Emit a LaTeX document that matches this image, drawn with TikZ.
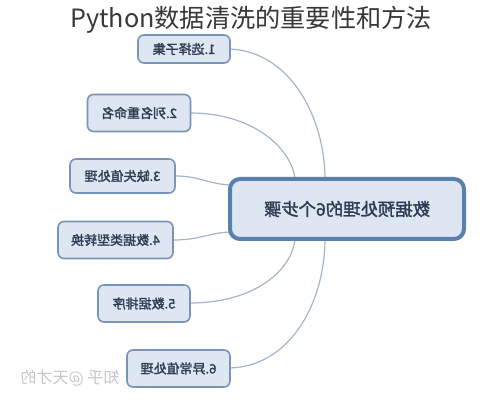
\documentclass[tikz,border=0pt]{standalone}
\usepackage{graphicx}
\usepackage{fontspec}
\setmainfont{Noto Sans CJK SC}
\newfontfamily\cjkb[FakeBold=1.8]{Noto Sans CJK SC}
\definecolor{boxfill}{HTML}{DDE6F1}
\definecolor{boxline}{HTML}{7894B8}
\definecolor{mainline}{HTML}{5A80AE}
\definecolor{txt}{HTML}{2E3B55}
\definecolor{conn}{HTML}{A3B6CC}
\tikzset{
  leaf/.style={draw=boxline, line width=0.8pt, fill=boxfill, rounded corners=3pt,
    inner sep=0pt, font=\cjkb\fontsize{6.5}{7}\selectfont, text=txt},
  hub/.style={draw=mainline, line width=2pt, fill=boxfill, rounded corners=5pt,
    inner sep=0pt, font=\cjkb\fontsize{8.7}{9}\selectfont, text=txt},
  link/.style={draw=conn, line width=0.6pt}
}
\begin{document}
\begin{tikzpicture}[x=0.5pt,y=-0.5pt]
\useasboundingbox (0,0) rectangle (499,400);
\fill[white] (0,0) rectangle (499,400);
% connectors first
\coordinate (t1) at (325,179);
\coordinate (t2) at (295,179);
\coordinate (t3) at (230,185);
\coordinate (t4) at (230,232);
\coordinate (t5) at (295,239);
\coordinate (t6) at (325,239);
\coordinate (e1) at (230,49);
\coordinate (e2) at (190,113);
\coordinate (e3) at (175,176);
\coordinate (e4) at (173,240);
\coordinate (e5) at (190,303);
\coordinate (e6) at (230,368);
\draw[link] (e1) .. controls (292,52) and (325,120) .. (t1);
\draw[link] (e2) .. controls (255,113) and (292,150) .. (t2);
\draw[link] (e3) .. controls (200,176) and (208,184) .. (t3);
\draw[link] (e4) .. controls (200,240) and (208,233) .. (t4);
\draw[link] (e5) .. controls (255,303) and (292,270) .. (t5);
\draw[link] (e6) .. controls (292,366) and (325,300) .. (t6);
% nodes
\node[leaf, minimum width=46pt, minimum height=14pt] (n1) at (184,49) {\reflectbox{1.选择子集}};
\node[leaf, minimum width=51.5pt, minimum height=18.5pt] (n2) at (139,113) {\reflectbox{2.列名重命名}};
\node[leaf, minimum width=52.5pt, minimum height=17pt] (n3) at (122.5,176) {\reflectbox{3.缺失值处理}};
\node[leaf, minimum width=57.5pt, minimum height=18.5pt] (n4) at (115.5,240) {\reflectbox{4.数据类型转换}};
\node[leaf, minimum width=46pt, minimum height=18.5pt] (n5) at (144,303.5) {\reflectbox{5.数据排序}};
\node[leaf, minimum width=51.5pt, minimum height=18.5pt] (n6) at (178.5,368.5) {\reflectbox{6.异常值处理}};
\node[hub, minimum width=117pt, minimum height=30pt] (c) at (347,209) {\reflectbox{数据预处理的6个步骤}};
% watermark
\node[font=\fontsize{8}{9}\selectfont, text=black!22] (wm) at (70,378) {\reflectbox{知乎 @天才的}};
% title
\node[font=\fontsize{12.6}{14}\selectfont, text=black!78] (title) at (251,20) {Python数据清洗的重要性和方法};
\end{tikzpicture}
\end{document}
